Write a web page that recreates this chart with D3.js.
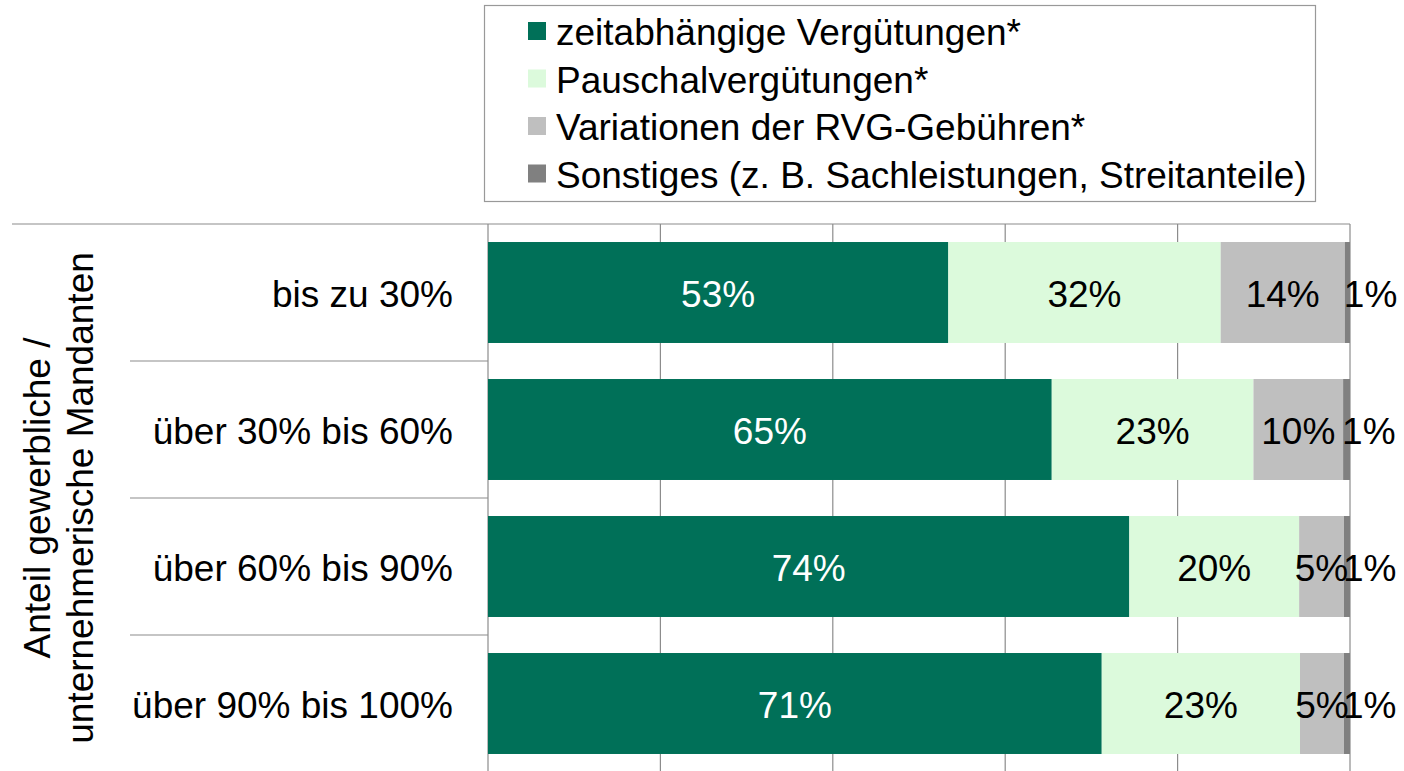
<!DOCTYPE html>
<html>
<head>
<meta charset="utf-8">
<script src="https://cdn.jsdelivr.net/npm/d3@7"></script>
<style>
  body { margin:0; background:#fff; }
  svg text { font-family: "Liberation Sans", Arial, sans-serif; }
</style>
</head>
<body>
<div id="chart"></div>
<script>
// Kategorien (Anteil gewerbliche / unternehmerische Mandanten)
var categories = ["bis zu 30%", "über 30% bis 60%", "über 60% bis 90%", "über 90% bis 100%"];
var seriesNames = ["zeitabhängige Vergütungen*", "Pauschalvergütungen*", "Variationen der RVG-Gebühren*", "Sonstiges (z. B. Sachleistungen, Streitanteile)"];
// Werte in Prozent je Kategorie
var zeitabh = [53.4, 65.4, 74.4, 71.2];
var pauschal = [31.6, 23.4, 19.7, 23.0];
var rvg = [14.4, 10.4, 5.2, 5.1];
var sonstiges = [0.6, 0.8, 0.7, 0.7];
var xTicks = [0, 20, 40, 60, 80, 100];

var colors = ["#007058", "#dcfadc", "#bfbfbf", "#808080"];
var labelColors = ["#ffffff", "#000000", "#000000", "#000000"];

var width = 1404, height = 771;
var margin = {left:488, top:224, right:54};
var fs = 37;

var rows = categories.map(function(c, i){
	return {cat:c, zeitabh:zeitabh[i], pauschal:pauschal[i], rvg:rvg[i], sonstiges:sonstiges[i]};
});
var keys = ["zeitabh", "pauschal", "rvg", "sonstiges"];
var stacked = d3.stack().keys(keys)(rows);

var x = d3.scaleLinear().domain([0, 100]).range([margin.left, width - margin.right]);
var y = d3.scaleBand().domain(categories).range([margin.top, margin.top + 137*4]).paddingInner(0.263).paddingOuter(0.1315);
var band = d3.scaleBand().domain(categories).range([margin.top, margin.top + 137*4]);

var svg = d3.select('#chart').append('svg').attr('width', width).attr('height', height);

// Gitterlinien
svg.append('g').selectAll('line').data(xTicks).enter()
	.append('line')
	.attr('x1', function(d){ return x(d); }).attr('x2', function(d){ return x(d); })
	.attr('y1', margin.top).attr('y2', height)
	.attr('stroke', '#8c8c8c').attr('stroke-width', 1.2);

// obere Linie
svg.append('line').attr('x1', 12).attr('x2', x(100)).attr('y1', margin.top).attr('y2', margin.top)
	.attr('stroke', '#8c8c8c').attr('stroke-width', 1.2);

// Trennlinien der Kategorien
svg.append('g').selectAll('line').data(categories.slice(1)).enter()
	.append('line')
	.attr('x1', 130).attr('x2', x(0))
	.attr('y1', function(d){ return band(d); }).attr('y2', function(d){ return band(d); })
	.attr('stroke', '#8c8c8c').attr('stroke-width', 1.2);

// Balken
var layers = svg.append('g').selectAll('g').data(stacked).enter()
	.append('g').attr('fill', function(d, i){ return colors[i]; });

layers.selectAll('rect').data(function(d){ return d; }).enter()
	.append('rect')
	.attr('x', function(d){ return x(d[0]); })
	.attr('y', function(d){ return y(d.data.cat); })
	.attr('width', function(d){ return x(d[1]) - x(d[0]); })
	.attr('height', y.bandwidth());

// Beschriftungen
var fmt = function(v){ return Math.round(v) + "%"; };
stacked.forEach(function(layer, i){
	svg.append('g').selectAll('text').data(layer).enter()
		.append('text')
		.attr('x', function(d){
			return i === 3 ? x(d[0]) - 1 : (x(d[0]) + x(d[1])) / 2;
		})
		.attr('y', function(d){ return y(d.data.cat) + y.bandwidth()/2; })
		.attr('dy', '0.4em')
		.attr('text-anchor', i === 3 ? 'start' : 'middle')
		.attr('fill', labelColors[i])
		.style('font-size', fs + 'px')
		.text(function(d){ return fmt(d[1] - d[0]); });
});

// Kategorienamen
svg.append('g').selectAll('text').data(categories).enter()
	.append('text')
	.attr('x', 453)
	.attr('y', function(d){ return band(d) + band.bandwidth()/2; })
	.attr('dy', '0.4em')
	.attr('text-anchor', 'end')
	.style('font-size', fs + 'px')
	.text(function(d){ return d; });

// Achsentitel
var midY = margin.top + 137*2;
var title = svg.append('text')
	.attr('transform', 'translate(37,' + midY + ') rotate(-90)')
	.attr('text-anchor', 'middle')
	.style('font-size', fs + 'px');
title.append('tspan').attr('x', 0).attr('dy', '0.36em').text('Anteil gewerbliche /');
title.append('tspan').attr('x', 0).attr('dy', '1.15em').text('unternehmerische Mandanten');

// Legende
var legend = svg.append('g');
legend.append('rect').attr('x', 484.5).attr('y', 5.5).attr('width', 831).attr('height', 196)
	.attr('fill', '#fff').attr('stroke', '#999').attr('stroke-width', 1.2);
var items = legend.selectAll('.item').data(seriesNames).enter()
	.append('g').attr('class', 'item')
	.attr('transform', function(d, i){ return 'translate(528,' + (31 + i*47.5) + ')'; });
items.append('rect').attr('x', 0).attr('y', -9).attr('width', 18).attr('height', 18)
	.attr('fill', function(d, i){ return colors[i]; });
items.append('text').attr('x', 28).attr('dy', '0.38em')
	.style('font-size', fs + 'px')
	.text(function(d){ return d; });
</script>
</body>
</html>
